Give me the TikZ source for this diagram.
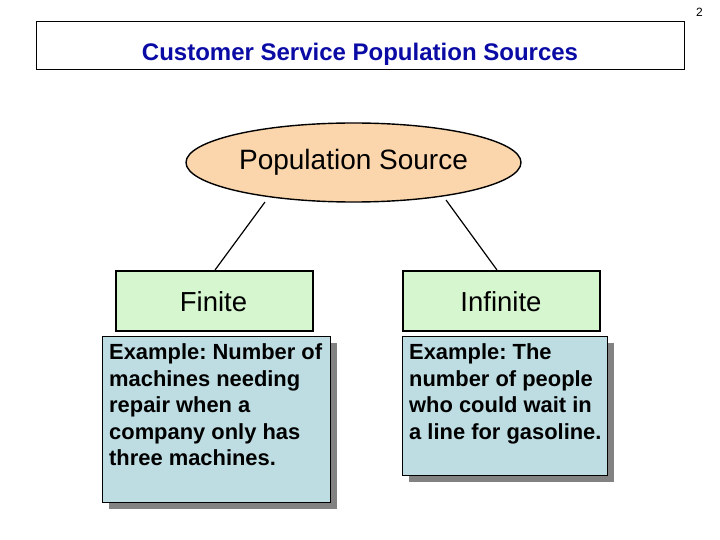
\documentclass[tikz,border=0pt]{standalone}
\usepackage{fontspec}
\setmainfont{Liberation Sans}
\usetikzlibrary{shapes.geometric,shadows}
\definecolor{titleblue}{RGB}{10,10,165}
\definecolor{peach}{RGB}{251,214,172}
\definecolor{lightgreen}{RGB}{213,246,206}
\definecolor{lightblue}{RGB}{189,221,227}
\definecolor{shadowgray}{RGB}{130,130,130}
\frenchspacing
\begin{document}
\begin{tikzpicture}[x=1pt,y=-1pt,
  catbox/.style={draw=black,line width=1.6pt,fill=lightgreen,minimum width=197pt,minimum height=60pt,inner sep=0pt,anchor=north west},
  cattext/.style={font=\fontsize{27.5}{30}\selectfont,inner sep=0pt},
  exbox/.style={draw=black,line width=1pt,fill=lightblue,inner sep=0pt,anchor=north west,
     drop shadow={shadow xshift=6pt,shadow yshift=-6pt,fill=shadowgray,opacity=1}},
  extext/.style={anchor=north west,inner sep=0pt,align=left,font=\bfseries\fontsize{21.9}{26.5}\selectfont},
  link/.style={line width=1.2pt}]
\useasboundingbox (0,0) rectangle (720,540);
\node[anchor=east,inner sep=0pt,font=\fontsize{12}{14}\selectfont] (pg) at (703,12) {2};
\node[draw=black,line width=0.8pt,minimum width=648pt,minimum height=48pt,inner sep=0pt,anchor=north west] (titlebox) at (36,21) {};
\node[font=\bfseries\fontsize{24}{28}\selectfont,text=titleblue,inner sep=0pt] (title) at (360,54.5) {Customer Service Population Sources};
\node[ellipse,draw=black,line width=1.4pt,fill=peach,minimum width=335pt,minimum height=79pt,inner sep=0pt,font=\fontsize{28}{30}\selectfont] (src) at (353.5,162.5) {\raisebox{-1.5pt}{Population Source}};
\node[catbox] (fin) at (115,270) {};
\node[cattext] (fint) at (213.5,301.5) {Finite};
\node[catbox] (inf) at (402,270) {};
\node[cattext] (inft) at (501,301.5) {Infinite};
\coordinate (l1) at (265,202);
\coordinate (l2) at (215,270);
\coordinate (r1) at (446,200);
\coordinate (r2) at (497,270);
\draw[link] (l1) -- (l2);
\draw[link] (r1) -- (r2);
\node[exbox,minimum width=228pt,minimum height=166pt] (exl) at (102,336) {};
\node[extext] (exlt) at (109,343.5) {Example: Number of\\machines needing\\repair when a\\company only has\\three machines.};
\node[exbox,minimum width=205pt,minimum height=139pt] (exr) at (402,336) {};
\node[extext] (exrt) at (409,343.5) {Example: The\\number of people\\who could wait in\\a line for gasoline.};
\end{tikzpicture}
\end{document}
